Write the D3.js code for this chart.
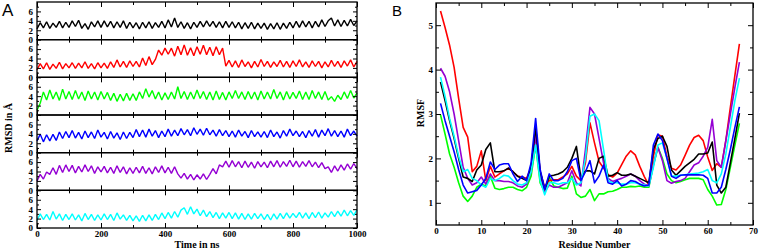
<!DOCTYPE html>
<html>
<head>
<meta charset="utf-8">
<script src="https://cdn.jsdelivr.net/npm/d3@7"></script>
<style>
body{margin:0;background:#fff;}
svg{display:block;}
.tick text{font-family:"Liberation Serif","DejaVu Serif",serif;font-weight:bold;font-size:9px;fill:#000;}
.tick line{stroke:#000;stroke-width:1;}
.title{font-family:"Liberation Serif","DejaVu Serif",serif;font-weight:bold;font-size:10px;fill:#000;}
.panel{font-family:"Liberation Sans",Arial,sans-serif;fill:#000;}
</style>
</head>
<body>
<script>
var width=761;
var height=249;

// ---- panel A : RMSD vs time, one row per system ----
var timeNs=d3.range(0,1001,10);
var timeTicks=[0,200,400,600,800,1000];
var rmsdTicks=[0,2,4,6];

var rmsdBlack=[2.3,3.6,2.5,3.8,2.4,3.5,2.6,3.9,2.5,3.7,2.6,
  4.0,2.8,4.1,2.4,3.4,2.2,3.8,2.7,4.0,2.6,
  4.0,2.7,3.9,2.5,3.8,2.6,4.0,2.4,3.7,2.5,
  3.6,2.3,3.7,2.5,3.8,2.4,3.6,2.6,3.9,2.5,
  4.2,2.7,4.6,2.6,3.8,2.4,3.6,2.3,3.7,2.6,
  3.9,2.7,4.0,2.8,3.9,2.6,3.8,2.5,3.9,2.6,
  3.8,2.5,3.7,2.3,3.6,2.4,3.7,2.3,3.5,2.4,
  3.5,2.2,3.4,2.3,3.6,2.2,3.5,2.4,3.7,2.5,
  3.9,2.6,4.0,2.7,3.9,2.5,3.9,2.7,4.2,2.8,
  4.0,4.6,2.9,4.2,2.8,4.1,2.9,4.3,3.0,4.0];
var rmsdRed=[1.6,2.9,1.8,3.1,1.7,2.8,1.9,3.2,1.8,2.9,2.0,
  3.1,1.9,3.0,2.0,3.3,1.9,2.9,1.8,3.1,2.0,
  3.0,1.9,3.3,2.1,3.7,2.2,3.4,2.1,3.5,2.3,
  3.4,2.2,4.1,2.5,4.4,2.7,3.8,5.8,4.7,6.2,
  4.9,6.2,4.5,6.6,4.8,6.9,4.7,6.3,4.6,6.5,
  4.9,6.8,4.8,6.4,4.6,6.5,4.8,6.2,2.4,3.6,
  2.2,3.5,2.1,3.7,2.3,3.3,2.0,3.4,2.2,3.8,
  2.3,3.4,2.1,3.3,2.3,3.6,2.2,3.4,2.1,3.5,
  2.3,3.7,2.2,3.3,2.1,3.5,2.3,3.4,2.0,3.3,
  2.2,3.6,2.3,3.4,2.1,3.5,2.4,3.7,2.2,3.4];
var rmsdGreen=[1.0,2.5,4.9,3.2,5.3,3.4,4.9,3.1,5.5,3.4,5.0,
  3.3,5.2,3.4,4.9,3.1,5.1,3.4,4.9,3.2,5.0,
  3.4,4.8,3.1,4.6,2.9,4.4,3.0,4.6,3.1,4.5,
  3.1,4.9,3.5,5.6,3.8,5.2,3.4,4.9,3.2,4.7,
  3.3,4.9,3.4,6.0,3.5,5.0,3.3,4.9,3.4,5.3,
  3.5,5.0,3.3,4.9,3.2,5.1,3.3,4.8,3.2,4.9,
  3.5,5.2,3.5,4.9,3.3,5.0,3.4,4.9,3.2,5.1,
  3.4,4.9,3.4,5.4,3.5,4.9,3.2,5.0,3.4,4.8,
  3.5,5.1,3.3,4.9,3.3,5.2,3.5,4.9,3.3,5.0,
  3.2,3.9,2.9,4.2,3.3,4.9,3.5,5.2,3.6,4.7];
var rmsdBlue=[2.5,3.9,2.3,3.8,2.5,3.9,2.6,4.4,3.0,4.5,3.2,
  4.7,3.1,4.3,2.9,4.6,3.2,4.4,3.0,4.8,3.3,
  4.3,2.9,4.5,3.1,4.2,2.8,4.4,3.0,4.3,3.2,
  4.9,3.4,4.8,3.3,5.0,3.5,4.7,3.2,4.6,3.4,
  5.0,3.5,4.8,3.6,5.1,3.8,4.9,3.6,5.3,3.9,
  5.0,3.7,5.2,3.8,4.8,3.5,4.9,3.6,4.7,3.4,
  4.6,3.3,4.8,3.5,4.5,3.2,4.7,3.4,4.4,3.3,
  4.5,3.2,4.8,3.4,4.4,3.1,4.7,3.5,5.0,3.6,
  4.6,3.4,4.5,3.2,4.7,3.5,4.9,3.3,4.8,3.6,
  5.1,3.5,4.7,3.4,4.6,3.3,5.0,3.6,4.6,3.5];
var rmsdPurple=[2.0,3.4,2.4,3.9,3.4,4.8,3.4,5.3,3.8,5.4,4.0,
  5.3,3.7,5.1,3.9,5.4,4.0,5.2,3.6,5.0,3.9,
  5.1,3.7,4.9,3.6,5.2,3.8,5.0,3.5,4.8,3.6,
  4.9,3.7,5.1,3.6,4.8,3.5,5.0,3.8,5.2,3.7,
  4.9,3.6,5.0,3.5,2.6,3.6,2.4,3.4,2.2,3.3,
  2.4,3.5,2.3,3.4,4.6,3.5,5.4,5.0,6.2,4.9,
  6.3,5.0,6.1,4.8,6.2,4.9,6.0,4.7,6.1,5.0,
  6.0,4.8,6.2,5.0,6.3,4.9,6.1,5.1,6.4,5.0,
  6.2,4.9,6.1,5.1,6.3,5.0,6.0,4.8,5.9,4.6,
  5.0,3.8,5.2,4.1,5.4,4.3,5.6,4.5,5.7,4.6];
var rmsdCyan=[1.6,3.0,1.8,2.9,1.7,3.5,1.9,3.0,1.6,2.9,1.8,
  3.0,1.7,2.8,1.5,3.1,1.8,2.9,1.6,2.8,1.7,
  3.0,1.8,2.9,1.6,3.2,1.9,2.8,1.6,2.7,1.5,
  2.6,1.4,2.7,1.5,2.8,1.6,2.9,1.8,3.2,2.0,
  3.3,2.1,3.5,2.3,3.8,4.3,2.9,4.5,3.0,4.0,
  2.6,3.8,2.4,3.5,2.2,3.3,2.0,3.2,2.1,3.3,
  2.0,3.2,1.9,3.1,1.8,3.0,1.9,3.1,2.0,3.0,
  1.8,2.9,1.7,3.0,1.9,3.1,2.0,3.2,2.1,3.1,
  2.2,3.3,2.1,3.2,2.0,3.3,2.2,3.4,2.1,3.2,
  2.3,3.5,2.4,3.6,2.5,3.8,2.6,3.7,2.7,3.9];

// ---- panel B : RMSF per residue ----
var residues=d3.range(1,68);
var residueTicks=[0,10,20,30,40,50,60,70];
var rmsfTicks=[1,2,3,4,5];

var rmsfRed=[5.32,4.95,4.55,4.05,3.35,2.7,2.48,1.7,1.82,2.17,
  1.5,1.82,1.58,1.65,1.72,1.78,1.7,1.6,1.58,1.55,
  1.8,2.65,1.7,1.35,1.5,1.52,1.52,1.58,1.65,1.82,
  1.6,1.5,1.9,2.8,2.35,1.93,1.78,1.63,1.58,1.67,
  1.86,2.05,2.17,2.08,1.82,1.59,1.4,2.04,2.53,2.5,
  2.04,1.78,1.74,1.85,2.07,2.3,2.47,2.52,2.4,2.03,
  1.73,1.88,1.8,2.4,3.15,3.87,4.58];
var rmsfBlack=[3.72,3.3,2.85,2.45,2.0,1.58,1.55,1.48,1.74,1.85,
  2.2,2.35,1.7,1.7,1.72,1.78,1.7,1.6,1.55,1.5,
  1.8,2.7,1.7,1.3,1.6,1.62,1.65,1.7,1.8,2.0,
  2.27,1.55,1.72,1.72,1.65,2.0,2.05,1.6,1.62,1.68,
  1.62,1.62,1.65,1.6,1.55,1.5,1.45,2.2,2.45,2.5,
  2.27,1.74,1.62,1.72,1.82,1.9,1.98,2.1,2.1,2.12,
  2.37,1.4,1.22,1.35,1.9,2.45,3.02];
var rmsfGreen=[2.98,2.55,2.1,1.8,1.45,1.15,1.03,1.15,1.35,1.42,
  1.38,1.6,1.33,1.3,1.32,1.35,1.35,1.3,1.27,1.35,
  1.6,2.3,1.45,1.25,1.58,1.38,1.35,1.32,1.33,1.6,
  1.2,1.12,1.15,1.3,1.05,1.2,1.2,1.25,1.26,1.3,
  1.35,1.35,1.37,1.36,1.38,1.35,1.35,1.85,2.25,2.0,
  1.65,1.5,1.45,1.48,1.52,1.55,1.55,1.55,1.52,1.3,
  1.15,0.95,0.96,1.3,1.8,2.3,2.79];
var rmsfBlue=[3.24,2.85,2.5,2.15,1.75,1.4,1.22,1.25,1.28,1.4,
  1.55,1.92,1.75,1.85,1.88,1.88,1.65,1.48,1.6,1.5,
  1.9,2.9,1.75,1.3,1.65,1.5,1.5,1.55,1.7,1.95,
  2.0,1.5,1.7,1.95,1.45,1.6,1.85,1.45,1.42,1.5,
  1.38,1.42,1.5,1.48,1.42,1.38,1.4,2.3,2.55,2.4,
  2.0,1.6,1.55,1.62,1.63,1.63,1.63,1.63,1.62,1.55,
  1.22,1.22,1.35,1.75,2.2,2.7,3.16];
var rmsfPurple=[4.03,3.85,3.5,3.0,2.4,1.8,1.55,1.4,1.45,1.58,
  1.42,1.65,1.5,1.5,1.48,1.48,1.45,1.38,1.35,1.42,
  1.7,2.5,1.6,1.25,1.4,1.35,1.35,1.4,1.45,1.72,
  1.45,1.38,2.2,3.15,3.0,2.45,1.9,1.55,1.48,1.52,
  1.55,1.6,1.65,1.6,1.5,1.42,1.38,1.85,2.25,1.95,
  1.5,1.44,1.48,1.5,1.55,1.7,1.85,1.9,2.05,2.25,
  2.88,1.95,1.8,2.4,3.0,3.6,4.17];
var rmsfCyan=[3.83,3.4,2.9,2.5,2.05,1.7,1.75,1.55,1.5,1.4,
  1.35,1.55,1.5,1.55,1.62,1.6,1.5,1.42,1.4,1.45,
  1.7,2.3,1.5,1.18,1.45,1.45,1.42,1.45,1.45,1.55,
  1.4,1.45,2.0,2.95,3.0,2.85,2.2,1.5,1.45,1.45,
  1.42,1.42,1.45,1.45,1.42,1.4,1.38,1.8,2.3,2.35,
  2.0,1.6,1.6,1.62,1.63,1.65,1.66,1.67,1.7,1.75,
  1.5,1.45,1.65,2.1,2.7,3.3,3.81];

var rmsdSeries=[
  {color:"#000000",values:rmsdBlack},
  {color:"#ff0000",values:rmsdRed},
  {color:"#00ff00",values:rmsdGreen},
  {color:"#0000ff",values:rmsdBlue},
  {color:"#9400d3",values:rmsdPurple},
  {color:"#00ffff",values:rmsdCyan}
];
var rmsfSeries=[
  {color:"#00ff00",values:rmsfGreen},
  {color:"#ff0000",values:rmsfRed},
  {color:"#9400d3",values:rmsfPurple},
  {color:"#000000",values:rmsfBlack},
  {color:"#00ffff",values:rmsfCyan},
  {color:"#0000ff",values:rmsfBlue}
];

var svg=d3.select("body").append("svg").attr("width",width).attr("height",height);

function clean(g){
    g.select(".domain").remove();
    return g;
}

// ---------- panel A ----------
var a={left:37,right:357,top:2,bottom:228};
var rowH=(a.bottom-a.top)/rmsdSeries.length;
var xA=d3.scaleLinear().domain([0,1000]).range([a.left,a.right]);

rmsdSeries.forEach(function(s,i){
    var y0=a.top+i*rowH;
    var yA=d3.scaleLinear().domain([0,8]).range([y0+rowH,y0]);
    var g=svg.append("g");
    var line=d3.line()
        .x(function(d,j){return xA(timeNs[j]);})
        .y(function(d){return yA(d);});
    g.append("path").datum(s.values)
        .attr("fill","none").attr("stroke",s.color)
        .attr("stroke-width",1.4).attr("stroke-linejoin","bevel").attr("d",line);

    // y ticks, inward on both sides
    g.append("g").attr("transform","translate("+a.left+",0)")
        .call(d3.axisLeft(yA).tickValues(rmsdTicks).tickSize(-4).tickPadding(4).tickFormat(d3.format("d"))).call(clean);
    g.append("g").attr("transform","translate("+a.left+",0)")
        .call(d3.axisLeft(yA).tickValues([1,3,5,7]).tickSize(-2).tickFormat("")).call(clean);
    g.append("g").attr("transform","translate("+a.right+",0)")
        .call(d3.axisRight(yA).tickValues(rmsdTicks).tickSize(-4).tickFormat("")).call(clean);
    g.append("g").attr("transform","translate("+a.right+",0)")
        .call(d3.axisRight(yA).tickValues([1,3,5,7]).tickSize(-2).tickFormat("")).call(clean);

    // x ticks top and bottom of each row
    var last=(i==rmsdSeries.length-1);
    g.append("g").attr("transform","translate(0,"+(y0+rowH)+")")
        .call(d3.axisBottom(xA).tickValues(timeTicks).tickSize(-5).tickPadding(3)
            .tickFormat(last?d3.format("d"):"")).call(clean);
    g.append("g").attr("transform","translate(0,"+(y0+rowH)+")")
        .call(d3.axisBottom(xA).tickValues([100,300,500,700,900]).tickSize(-3).tickFormat("")).call(clean);
    g.append("g").attr("transform","translate(0,"+y0+")")
        .call(d3.axisTop(xA).tickValues(timeTicks).tickSize(-5).tickFormat("")).call(clean);
    g.append("g").attr("transform","translate(0,"+y0+")")
        .call(d3.axisTop(xA).tickValues([100,300,500,700,900]).tickSize(-3).tickFormat("")).call(clean);

    g.append("rect").attr("x",a.left).attr("y",y0)
        .attr("width",a.right-a.left).attr("height",rowH)
        .attr("fill","none").attr("stroke","#000").attr("stroke-width",1.3);
});

svg.append("text").attr("class","title").attr("x",(a.left+a.right)/2).attr("y",248)
    .attr("text-anchor","middle").text("Time in ns");
svg.append("text").attr("class","title").attr("text-anchor","middle")
    .attr("transform","translate(12,128) rotate(-90)").text("RMSD in Å");
svg.append("text").attr("class","panel").attr("x",2).attr("y",16)
    .attr("font-size","17px").text("A");

// ---------- panel B ----------
var b={left:436,right:753,top:3,bottom:225};
var xB=d3.scaleLinear().domain([0,70]).range([b.left,b.right]);
var yB=d3.scaleLinear().domain([0.5,5.5]).range([b.bottom,b.top]);

var gB=svg.append("g");
rmsfSeries.forEach(function(s){
    var line=d3.line()
        .x(function(d,j){return xB(residues[j]);})
        .y(function(d){return yB(d);});
    gB.append("path").datum(s.values)
        .attr("fill","none").attr("stroke",s.color)
        .attr("stroke-width",1.6).attr("stroke-linejoin","round").attr("d",line);
});

gB.append("g").attr("transform","translate(0,"+b.bottom+")")
    .call(d3.axisBottom(xB).tickValues(residueTicks).tickSize(-5).tickPadding(3).tickFormat(d3.format("d"))).call(clean);
gB.append("g").attr("transform","translate(0,"+b.bottom+")")
    .call(d3.axisBottom(xB).tickValues([5,15,25,35,45,55,65]).tickSize(-3).tickFormat("")).call(clean);
gB.append("g").attr("transform","translate(0,"+b.top+")")
    .call(d3.axisTop(xB).tickValues(residueTicks).tickSize(-5).tickFormat("")).call(clean);
gB.append("g").attr("transform","translate(0,"+b.top+")")
    .call(d3.axisTop(xB).tickValues([5,15,25,35,45,55,65]).tickSize(-3).tickFormat("")).call(clean);
gB.append("g").attr("transform","translate("+b.left+",0)")
    .call(d3.axisLeft(yB).tickValues(rmsfTicks).tickSize(-5).tickPadding(3).tickFormat(d3.format("d"))).call(clean);
gB.append("g").attr("transform","translate("+b.left+",0)")
    .call(d3.axisLeft(yB).tickValues([1.5,2.5,3.5,4.5]).tickSize(-3).tickFormat("")).call(clean);
gB.append("g").attr("transform","translate("+b.right+",0)")
    .call(d3.axisRight(yB).tickValues(rmsfTicks).tickSize(-5).tickFormat("")).call(clean);
gB.append("g").attr("transform","translate("+b.right+",0)")
    .call(d3.axisRight(yB).tickValues([1.5,2.5,3.5,4.5]).tickSize(-3).tickFormat("")).call(clean);

gB.append("rect").attr("x",b.left).attr("y",b.top)
    .attr("width",b.right-b.left).attr("height",b.bottom-b.top)
    .attr("fill","none").attr("stroke","#000").attr("stroke-width",1.3);

svg.append("text").attr("class","title").attr("x",(b.left+b.right)/2).attr("y",248)
    .attr("text-anchor","middle").text("Residue Number");
svg.append("text").attr("class","title").attr("text-anchor","middle")
    .attr("transform","translate(424,113) rotate(-90)").text("RMSF");
svg.append("text").attr("class","panel").attr("x",392).attr("y",16)
    .attr("font-size","15px").text("B");
</script>
</body>
</html>
